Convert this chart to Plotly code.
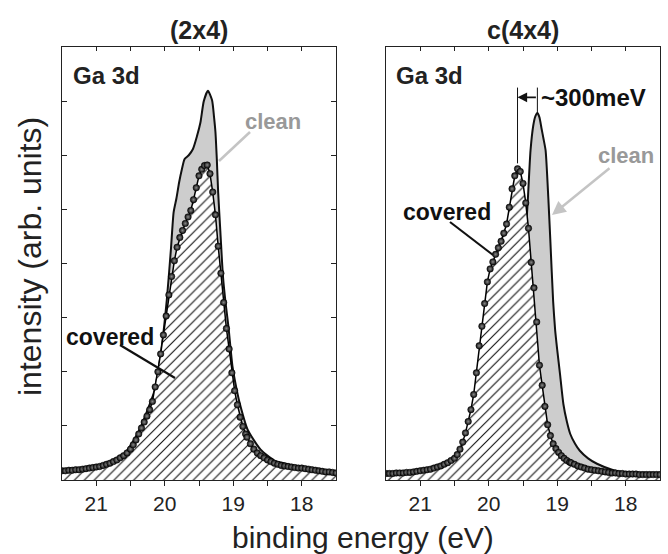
import plotly.graph_objects as go

W, H = 668, 554

# ---------------- data (binding energy in eV, intensity in arb. units) ----------------
energy_grid = [
    21.50, 21.45, 21.40, 21.35, 21.30, 21.25, 21.20, 21.15, 21.10, 21.05, 21.00,
    20.95, 20.90, 20.85, 20.80, 20.75, 20.70, 20.65, 20.60, 20.55, 20.50,
    20.46, 20.42, 20.38, 20.34, 20.30, 20.26, 20.22, 20.18, 20.14, 20.10, 20.06,
    20.02, 19.98, 19.94, 19.90, 19.86, 19.82, 19.78, 19.74, 19.70, 19.66, 19.62,
    19.58, 19.54, 19.50, 19.46, 19.42, 19.38, 19.34, 19.30, 19.26, 19.22, 19.18,
    19.14, 19.10, 19.06, 19.02, 18.98, 18.94, 18.90, 18.86, 18.82,
    18.80, 18.75, 18.70, 18.65, 18.60, 18.55, 18.50, 18.45, 18.40, 18.35, 18.30,
    18.25, 18.20, 18.15, 18.10, 18.05, 18.00, 17.95, 17.90, 17.85, 17.80, 17.75,
    17.70, 17.65, 17.60, 17.55, 17.50,
]

covered_2x4 = [
    0.17, 0.17, 0.18, 0.18, 0.19, 0.19, 0.20, 0.21, 0.22, 0.23, 0.24,
    0.25, 0.27, 0.29, 0.31, 0.34, 0.37, 0.41, 0.45, 0.50, 0.57,
    0.65, 0.74, 0.85, 0.96, 1.07, 1.18, 1.30, 1.45, 1.72, 2.00, 2.33,
    2.68, 3.03, 3.42, 3.76, 4.05, 4.30, 4.48, 4.61, 4.74, 4.86, 4.98,
    5.18, 5.40, 5.62, 5.74, 5.81, 5.82, 5.66, 5.32, 4.90, 4.32, 3.82,
    3.28, 2.80, 2.42, 1.98, 1.65, 1.39, 1.16, 0.99, 0.85,
    0.79, 0.67, 0.57, 0.50, 0.45, 0.41, 0.37, 0.34, 0.31, 0.29, 0.27,
    0.26, 0.25, 0.24, 0.23, 0.22, 0.22, 0.21, 0.20, 0.19, 0.18, 0.17,
    0.16, 0.15, 0.15, 0.14, 0.13,
]

covered_c4x4 = [
    0.12, 0.12, 0.12, 0.13, 0.13, 0.13, 0.14, 0.14, 0.15, 0.16, 0.17,
    0.18, 0.19, 0.20, 0.22, 0.24, 0.26, 0.29, 0.32, 0.36, 0.40,
    0.47, 0.57, 0.70, 0.87, 1.08, 1.30, 1.58, 1.98, 2.48, 2.84, 3.26,
    3.66, 3.90, 4.03, 4.17, 4.29, 4.41, 4.56, 4.73, 5.04, 5.38, 5.62,
    5.75, 5.70, 5.48, 5.12, 4.65, 4.02, 3.55, 2.92, 2.12, 1.75, 1.36,
    1.02, 0.82, 0.67, 0.58, 0.51, 0.45, 0.40, 0.36, 0.33,
    0.32, 0.29, 0.26, 0.24, 0.22, 0.20, 0.19, 0.18, 0.17, 0.16, 0.15,
    0.14, 0.13, 0.13, 0.12, 0.12, 0.11, 0.11, 0.11, 0.11, 0.10, 0.10,
    0.10, 0.10, 0.10, 0.10, 0.10,
]

clean_2x4_energy = [
    21.5, 21.2, 21.0, 20.8, 20.6, 20.45, 20.35, 20.25, 20.15, 20.05, 19.97,
    19.91, 19.87, 19.83, 19.79, 19.75, 19.71, 19.65, 19.59, 19.53, 19.48,
    19.43, 19.37, 19.31, 19.28, 19.26, 19.24, 19.22, 19.19, 19.15, 19.11,
    19.07, 19.01, 18.94, 18.90, 18.79, 18.6, 18.4, 18.26, 18.0, 17.75, 17.5,
]
clean_2x4 = [
    0.19, 0.22, 0.26, 0.33, 0.47, 0.74, 0.98, 1.30, 1.65, 2.41, 3.33,
    4.26, 4.95, 5.20, 5.50, 5.74, 5.93, 6.00, 6.11, 6.35, 6.60,
    7.00, 7.19, 7.02, 6.70, 6.43, 5.93, 5.31, 4.63, 3.76, 3.25,
    2.83, 2.09, 1.61, 1.39, 0.93, 0.56, 0.36, 0.31, 0.23, 0.18, 0.15,
]

clean_c4x4_energy = [
    21.5, 21.2, 21.0, 20.8, 20.6, 20.4, 20.2, 20.0, 19.85, 19.75, 19.65,
    19.58, 19.52, 19.46, 19.43, 19.39, 19.35, 19.32, 19.29, 19.26, 19.23,
    19.20, 19.17, 19.13, 19.10, 19.06, 19.03, 19.00, 18.96, 18.91, 18.86,
    18.81, 18.74, 18.67, 18.55, 18.42, 18.2, 18.0, 17.75, 17.5,
]
clean_c4x4 = [
    0.10, 0.11, 0.12, 0.14, 0.17, 0.22, 0.30, 0.50, 0.80, 1.20, 1.90,
    2.60, 3.50, 4.56, 5.17, 6.09, 6.55, 6.72, 6.78, 6.70, 6.50,
    6.30, 6.09, 5.20, 4.40, 3.30, 2.76, 2.40, 1.96, 1.40, 1.08,
    0.85, 0.67, 0.54, 0.40, 0.30, 0.19, 0.13, 0.11, 0.10,
]

xtick_vals = [21, 20.5, 20, 19.5, 19, 18.5, 18]
xtick_text = ["21", "", "20", "", "19", "", "18"]
ytick_vals = [1, 2, 3, 4, 5, 6, 7]
panel_titles = ["(2x4)", "c(4x4)"]

# ---------------- styling ----------------
FONT = "Liberation Sans, Arial, Helvetica, sans-serif"
X_RANGE = [21.5, 17.5]
Y_RANGE = [0, 8]


def px(x):
    return x / W


def py(y):
    return 1 - y / H


ydom = [py(480), py(47)]
xdom_left = [px(62), px(336)]
xdom_right = [px(386), px(660)]

fig = go.Figure()

marker_style = dict(
    size=6.5, color="#0a0a0a",
    line=dict(width=0.5, color="#000000"),
    gradient=dict(type="radial", color="#8a8a8a"),
)

panels = [
    ("x", "y", clean_2x4_energy, clean_2x4, covered_2x4),
    ("x2", "y2", clean_c4x4_energy, clean_c4x4, covered_c4x4),
]
for xa, ya, ce, cv, cov in panels:
    fig.add_trace(go.Scatter(
        x=ce, y=cv, xaxis=xa, yaxis=ya, mode="lines",
        line=dict(color="#111111", width=2, shape="spline", smoothing=0.6),
        fill="tozeroy", fillcolor="#cdcdcd",
        showlegend=False, hoverinfo="skip",
    ))
    fig.add_trace(go.Scatter(
        x=energy_grid, y=cov, xaxis=xa, yaxis=ya, mode="lines+markers",
        line=dict(color="#000000", width=1.5),
        marker=marker_style,
        fill="tozeroy", fillcolor="white",
        fillpattern=dict(shape="/", fgcolor="#111111", bgcolor="white",
                         size=7, solidity=0.16, fillmode="replace"),
        showlegend=False, hoverinfo="skip",
    ))

# invisible traces so the top (inner-tick) axes are drawn
for xa, ya in [("x3", "y"), ("x4", "y2")]:
    fig.add_trace(go.Scatter(x=[19.5], y=[4], xaxis=xa, yaxis=ya, mode="markers",
                             marker=dict(opacity=0), showlegend=False, hoverinfo="skip"))

xaxis_common = dict(
    range=X_RANGE, tickmode="array", tickvals=xtick_vals, ticktext=xtick_text,
    ticks="outside", ticklen=5, tickwidth=1, tickcolor="#222",
    showline=True, linecolor="#222", linewidth=1.2, mirror=True,
    showgrid=False, zeroline=False,
    tickfont=dict(family=FONT, size=21, color="#222"),
)
top_common = dict(
    range=X_RANGE, tickmode="array", tickvals=xtick_vals, ticks="inside",
    ticklen=4, tickwidth=1, tickcolor="#222", showticklabels=False,
    showline=False, showgrid=False, zeroline=False, side="top",
)

fig.update_layout(
    width=W, height=H,
    margin=dict(l=0, r=0, t=0, b=0),
    paper_bgcolor="white", plot_bgcolor="white",
    font=dict(family=FONT, color="#222"),
    xaxis=dict(domain=xdom_left, anchor="y", **xaxis_common),
    xaxis2=dict(domain=xdom_right, anchor="y2", **xaxis_common),
    xaxis3=dict(domain=xdom_left, anchor="y", overlaying="x", **top_common),
    xaxis4=dict(domain=xdom_right, anchor="y2", overlaying="x2", **top_common),
    yaxis=dict(domain=ydom, anchor="x", range=Y_RANGE, tickmode="array",
               tickvals=ytick_vals, ticks="inside", ticklen=5, tickcolor="#222",
               showticklabels=False, showline=True, linecolor="#222",
               linewidth=1.2, mirror="ticks", showgrid=False, zeroline=False),
    yaxis2=dict(domain=ydom, anchor="x2", range=Y_RANGE, ticks="",
                showticklabels=False, showline=True, linecolor="#222",
                linewidth=1.2, mirror=True, showgrid=False, zeroline=False),
)

ann = []
# panel titles
for title, dom in zip(panel_titles, [xdom_left, xdom_right]):
    ann.append(dict(text="<b>%s</b>" % title, x=(dom[0] + dom[1]) / 2, y=py(30),
                    xref="paper", yref="paper", showarrow=False,
                    font=dict(family=FONT, size=25, color="#222"),
                    xanchor="center", yanchor="middle"))
# Ga 3d labels
for xl in [71, 394]:
    ann.append(dict(text="<b>Ga 3d</b>", x=px(xl), y=py(75), xref="paper", yref="paper",
                    showarrow=False, xanchor="left", yanchor="middle",
                    font=dict(family=FONT, size=24, color="#222")))
# clean labels
ann.append(dict(text="<b>clean</b>", x=px(273), y=py(121), xref="paper", yref="paper",
                showarrow=False, xanchor="center", yanchor="middle",
                font=dict(family=FONT, size=22, color="#999999")))
ann.append(dict(text="<b>clean</b>", x=px(626), y=py(155), xref="paper", yref="paper",
                showarrow=False, xanchor="center", yanchor="middle",
                font=dict(family=FONT, size=22, color="#999999")))
# gray arrow in right panel
ann.append(dict(text="", x=px(552), y=py(215), xref="paper", yref="paper",
                ax=59, ay=-48, showarrow=True, arrowhead=2, arrowsize=1.1,
                arrowwidth=2.5, arrowcolor="#c4c4c4"))
# covered labels
ann.append(dict(text="<b>covered</b>", x=px(64), y=py(337), xref="paper", yref="paper",
                showarrow=False, xanchor="left", yanchor="middle",
                font=dict(family=FONT, size=23, color="#111")))
ann.append(dict(text="<b>covered</b>", x=px(401), y=py(212), xref="paper", yref="paper",
                showarrow=False, xanchor="left", yanchor="middle",
                font=dict(family=FONT, size=23, color="#111")))

# ~300 meV shift marker derived from the data peaks of the c(4x4) panel
i_cov = max(range(len(covered_c4x4)), key=lambda i: covered_c4x4[i])
i_cln = max(range(len(clean_c4x4)), key=lambda i: clean_c4x4[i])
e_cov, v_cov = energy_grid[i_cov], covered_c4x4[i_cov]
e_cln, v_cln = clean_c4x4_energy[i_cln], clean_c4x4[i_cln]
y_arrow = 7.07
ann.append(dict(text="", x=e_cov, y=y_arrow, xref="x2", yref="y2",
                ax=e_cln, ay=y_arrow, axref="x2", ayref="y2",
                showarrow=True, arrowhead=2, arrowsize=1.2, arrowwidth=1.6,
                arrowcolor="#111"))
ann.append(dict(text="<b>~300meV</b>", x=e_cln, y=y_arrow, xref="x2", yref="y2",
                showarrow=False, xanchor="left", yanchor="middle", xshift=2,
                font=dict(family=FONT, size=24, color="#111")))

# axis titles
ann.append(dict(text="binding energy (eV)", x=px(363), y=py(537), xref="paper", yref="paper",
                showarrow=False, xanchor="center", yanchor="middle",
                font=dict(family=FONT, size=30, color="#222")))
ann.append(dict(text="intensity (arb. units)", x=px(30), y=py(257), xref="paper", yref="paper",
                showarrow=False, xanchor="center", yanchor="middle", textangle=-90,
                font=dict(family=FONT, size=32, color="#222")))

shapes = [
    # gray pointer line for "clean" in the (2x4) panel
    dict(type="line", xref="paper", yref="paper", x0=px(219), y0=py(161),
         x1=px(250), y1=py(132), line=dict(color="#c4c4c4", width=2.5)),
    # black pointer lines for "covered"
    dict(type="line", xref="paper", yref="paper", x0=px(120), y0=py(345),
         x1=px(175), y1=py(378), line=dict(color="#111", width=2.2)),
    dict(type="line", xref="paper", yref="paper", x0=px(450), y0=py(222),
         x1=px(493), y1=py(255), line=dict(color="#111", width=2.2)),
    # vertical peak markers
    dict(type="line", xref="x2", yref="y2", x0=e_cov, x1=e_cov, y0=v_cov + 0.1,
         y1=7.25, line=dict(color="#111", width=1)),
    dict(type="line", xref="x2", yref="y2", x0=e_cln, x1=e_cln, y0=v_cln,
         y1=7.25, line=dict(color="#111", width=1)),
]

fig.update_layout(annotations=ann, shapes=shapes)
fig.write_html("out.html", config={"displayModeBar": False},
               post_script="document.body.style.margin='0px';document.body.style.overflow='hidden';")
